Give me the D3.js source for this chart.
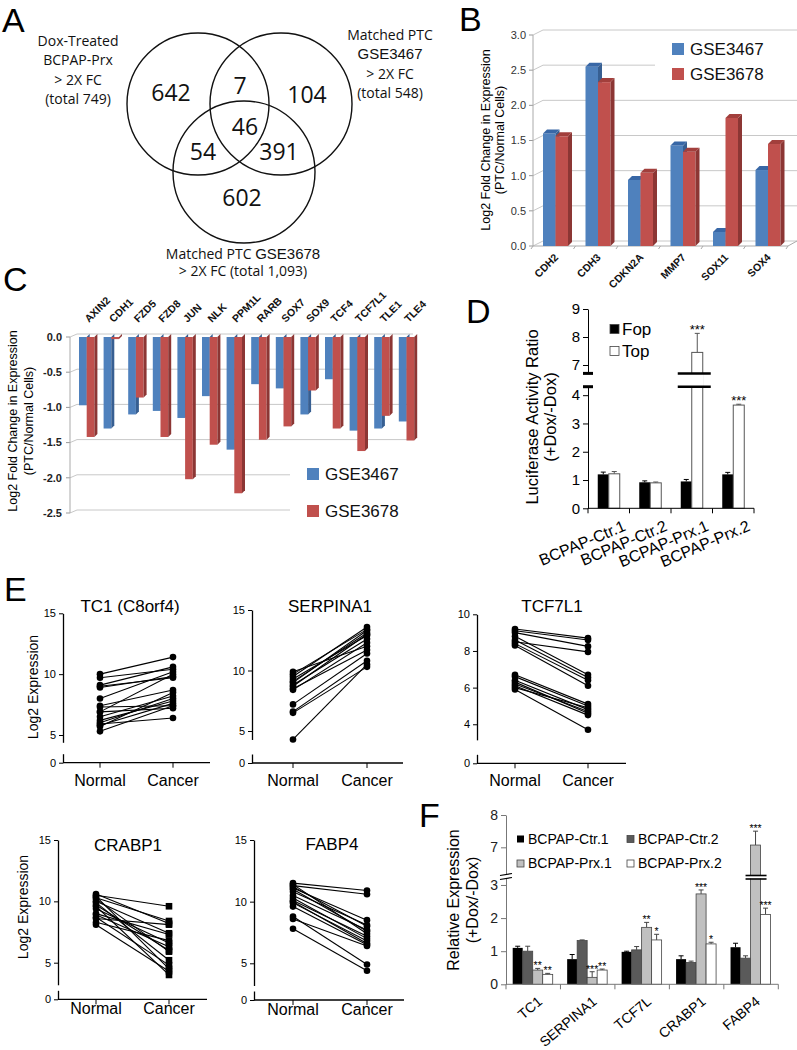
<!DOCTYPE html>
<html>
<head>
<meta charset="utf-8">
<script src="https://cdn.jsdelivr.net/npm/d3@7"></script>
<style>
  body { margin: 0; background: #fff; }
  svg { display: block; font-family: "Liberation Sans", Arial, sans-serif; }
</style>
</head>
<body>
<div id="fig"></div>
<script>
// ---------------- data ----------------
// A: venn counts (only dox, dox&3467, only 3467, all, dox&3678, 3467&3678, only 3678)
var vennCounts = [642, 7, 104, 46, 54, 391, 602];

// B: up-regulated genes
var bGenes = ["CDH2", "CDH3", "CDKN2A", "MMP7", "SOX11", "SOX4"];
var bGSE3467 = [1.60, 2.55, 0.94, 1.43, 0.20, 1.08];
var bGSE3678 = [1.56, 2.33, 1.04, 1.34, 1.82, 1.45];

// C: down-regulated genes
var cGenes = ["AXIN2", "CDH1", "FZD5", "FZD8", "JUN", "NLK", "PPM1L", "RARB", "SOX7", "SOX9", "TCF4", "TCF7L1", "TLE1", "TLE4"];
var cGSE3467 = [-0.97, -1.30, -1.10, -1.05, -1.15, -0.84, -1.60, -0.67, -0.73, -1.10, -0.60, -1.33, -1.30, -1.20];
var cGSE3678 = [-1.42, -0.03, -0.86, -1.42, -2.02, -1.53, -2.22, -1.46, -1.27, -0.76, -1.30, -1.62, -1.12, -1.47];

// D: luciferase
var dGroups = ["BCPAP-Ctr.1", "BCPAP-Ctr.2", "BCPAP-Prx.1", "BCPAP-Prx.2"];
var dFop = [1.20, 0.92, 0.95, 1.20];
var dFopErr = [0.08, 0.05, 0.07, 0.07];
var dTop = [1.22, 0.90, 7.45, 3.65];
var dTopErr = [0.08, 0.03, 0.68, 0.03];
var dTopStars = ["", "", "***", "***"];

// E: paired normal / cancer expression
var tc1Normal = [10.0, 9.7, 9.1, 8.9, 8.0, 7.4, 7.3, 6.9, 6.9, 6.5, 6.2, 6.0, 5.9, 5.8, 5.7, 5.3, 9.0];
var tc1Cancer = [11.4, 10.4, 10.6, 9.8, 10.2, 8.7, 7.4, 10.0, 7.2, 8.2, 7.8, 8.0, 6.4, 7.6, 8.5, 7.4, 9.7];
var serNormal = [9.9, 9.7, 9.5, 9.3, 9.0, 8.7, 8.5, 8.4, 7.2, 6.6, 6.5, 4.3, 9.1, 8.8];
var serCancer = [12.0, 13.4, 13.6, 12.9, 13.3, 13.0, 11.7, 12.3, 11.4, 10.8, 10.3, 10.5, 13.1, 12.6];
var tcfNormal = [9.2, 9.1, 9.0, 8.8, 8.6, 8.4, 8.3, 8.5, 6.7, 6.6, 6.4, 6.3, 6.1, 5.9, 6.0, 6.2];
var tcfCancer = [8.7, 8.6, 8.25, 6.7, 6.55, 6.4, 6.1, 7.95, 5.1, 5.0, 4.8, 4.6, 4.5, 3.7, 4.9, 4.7];
var craNormal = [10.5, 10.3, 10.6, 10.0, 9.7, 10.4, 9.6, 9.4, 8.9, 8.7, 8.6, 8.3, 8.1, 10.2, 9.0, 9.9];
var craCancer = [9.6, 8.4, 8.2, 7.4, 6.0, 4.5, 4.0, 6.6, 6.3, 4.8, 8.1, 6.8, 4.3, 5.9, 7.3, 5.2];
var fabNormal = [11.5, 11.3, 11.1, 11.4, 10.8, 10.5, 10.3, 10.1, 9.9, 9.6, 8.8, 8.6, 7.8, 11.0, 10.0, 11.2];
var fabCancer = [10.9, 10.6, 8.5, 7.4, 8.1, 7.7, 7.0, 7.2, 6.8, 6.5, 4.9, 6.4, 4.4, 7.6, 6.6, 8.0];

// F: relative expression
var fGenes = ["TC1", "SERPINA1", "TCF7L", "CRABP1", "FABP4"];
var fSeries = ["BCPAP-Ctr.1", "BCPAP-Ctr.2", "BCPAP-Prx.1", "BCPAP-Prx.2"];
var fCtr1 = [1.10, 0.76, 0.98, 0.76, 1.12];
var fCtr1Err = [0.05, 0.14, 0.02, 0.10, 0.12];
var fCtr2 = [1.00, 1.32, 1.04, 0.66, 0.79];
var fCtr2Err = [0.15, 0.02, 0.10, 0.04, 0.07];
var fPrx1 = [0.43, 0.21, 1.72, 2.73, 7.07];
var fPrx1Err = [0.05, 0.17, 0.15, 0.12, 0.43];
var fPrx2 = [0.30, 0.43, 1.34, 1.22, 2.11];
var fPrx2Err = [0.03, 0.03, 0.17, 0.05, 0.19];
var fPrx1Stars = ["**", "***", "**", "***", "***"];
var fPrx2Stars = ["**", "**", "*", "*", "***"];

// ---------------- svg ----------------
var svg = d3.select("#fig").append("svg")
  .attr("width", 797)
  .attr("height", 1050);
svg.append("rect").attr("width", 797).attr("height", 1050).attr("fill", "#fff");

var FONT = "'Liberation Sans', Arial, sans-serif";
var intFmt = d3.format("d");

// panel letters
[["A", 2, 32], ["B", 459, 31], ["C", 3, 291], ["D", 466, 323], ["E", 4, 601], ["F", 419, 827]]
  .forEach(function(l) {
    svg.append("text").attr("x", l[1]).attr("y", l[2])
      .attr("font-size", 34).attr("fill", "#000").text(l[0]);
  });

//helper: style an axis group made by d3.axis
function styleAxis(g, size, weight, color) {
  g.attr("font-family", FONT).attr("font-size", size);
  g.selectAll("text").attr("fill", color || "#000").attr("font-weight", weight || "normal");
  g.selectAll("line").attr("stroke", color || "#000");
  g.selectAll("path").attr("stroke", color || "#000");
}

// ================= A: venn =================
var gA = svg.append("g");
var vennCircles = [{cx: 198, cy: 104}, {cx: 281, cy: 104}, {cx: 244, cy: 172}];
gA.selectAll("circle").data(vennCircles).join("circle")
  .attr("cx", d => d.cx).attr("cy", d => d.cy).attr("r", 71)
  .attr("fill", "none").attr("stroke", "#111").attr("stroke-width", 1.4);

var vennPos = [[171, 93], [240, 86], [307, 95], [245, 127], [203, 152], [279, 152], [242, 198]];
gA.selectAll("text.cnt").data(vennCounts).join("text")
  .attr("class", "cnt")
  .attr("x", (d, i) => vennPos[i][0]).attr("y", (d, i) => vennPos[i][1])
  .attr("dy", "0.35em")
  .attr("text-anchor", "middle")
  .attr("font-family", "'Open Sans', sans-serif")
  .attr("font-size", 23).attr("fill", "#111")
  .text(d => d);

function vennLabel(lines, x, y0, step) {
  lines.forEach(function(ln, i) {
    var t = gA.append("text").attr("x", x).attr("y", y0 + i * step)
      .attr("dy", "0.35em").attr("text-anchor", "middle")
      .attr("font-family", "'Open Sans', sans-serif").attr("font-size", 14).attr("fill", "#111");
    ln.forEach(function(part) {
      t.append("tspan")
        .attr("font-family", part.arial ? FONT : null)
        .attr("font-size", part.arial ? 15 : null)
        .text(part.s);
    });
  });
}
vennLabel([[{s: "Dox-Treated"}], [{s: "BCPAP-Prx"}], [{s: "> 2X FC"}], [{s: "(total 749)"}]], 78, 41, 19.5);
vennLabel([[{s: "Matched PTC"}], [{s: "GSE3467", arial: true}], [{s: "> 2X FC"}], [{s: "(total 548)"}]], 390, 35, 19.5);
vennLabel([[{s: "Matched PTC "}, {s: "GSE3678", arial: true}], [{s: "> 2X FC (total 1,093)"}]], 243, 254, 17);

// ================= B: 3D bars (up) =================
var gB = svg.append("g");
var xB = d3.scaleBand().domain(bGenes).range([533, 788]);
var yB = d3.scaleLinear().domain([0, 3]).range([246, 35]);
var dB = 4;

// back wall grid
yB.ticks(6).forEach(function(v) {
  var y = yB(v);
  gB.append("line").attr("x1", 533).attr("y1", y).attr("x2", 533 + 10).attr("y2", y - 5)
    .attr("stroke", "#c8c8c8");
  gB.append("line").attr("x1", 543).attr("y1", y - 5).attr("x2", v === 2.5 ? 655 : 797).attr("y2", y - 5)
    .attr("stroke", "#c8c8c8");
  gB.append("line").attr("x1", 529).attr("x2", 533).attr("y1", y).attr("y2", y).attr("stroke", "#999");
  gB.append("text").attr("x", 526).attr("y", y).attr("dy", "0.35em").attr("text-anchor", "end")
    .attr("font-size", 11).attr("fill", "#333").text(d3.format(".1f")(v));
});
gB.append("line").attr("x1", 533).attr("x2", 533).attr("y1", yB(0)).attr("y2", yB(3)).attr("stroke", "#aaa");
gB.append("line").attr("x1", 533).attr("x2", 788).attr("y1", yB(0)).attr("y2", yB(0)).attr("stroke", "#aaa");
gB.append("line").attr("x1", 788).attr("x2", 797).attr("y1", yB(0)).attr("y2", yB(0) - 5).attr("stroke", "#aaa");
xB.domain().concat(["end"]).forEach(function(g) {
  var x = g === "end" ? 788 : xB(g);
  gB.append("line").attr("x1", x).attr("x2", x - 2).attr("y1", yB(0)).attr("y2", yB(0) + 3).attr("stroke", "#aaa");
});

function bar3d(g, x, w, yTop, yBase, d, front, side, top) {
  g.append("rect").attr("x", x).attr("y", Math.min(yTop, yBase)).attr("width", w)
    .attr("height", Math.abs(yBase - yTop)).attr("fill", front);
  g.append("path")
    .attr("d", "M" + (x + w) + "," + yTop + "L" + (x + w + d) + "," + (yTop - d) + "L" + (x + w + d) + "," + (yBase - d) + "L" + (x + w) + "," + yBase + "Z")
    .attr("fill", side);
  if (top) {
    g.append("path")
      .attr("d", "M" + x + "," + yTop + "L" + (x + d) + "," + (yTop - d) + "L" + (x + w + d) + "," + (yTop - d) + "L" + (x + w) + "," + yTop + "Z")
      .attr("fill", top);
  }
}

bGenes.forEach(function(gene, i) {
  var x0 = xB(gene) + 10;
  bar3d(gB, x0, 12.5, yB(bGSE3467[i]), yB(0), dB, "#4f81bd", "#375f92", "#3867a6");
  bar3d(gB, x0 + 12.5, 12.5, yB(bGSE3678[i]), yB(0), dB, "#c0504d", "#8c3634", "#a23f3c");
  gB.append("text")
    .attr("transform", "translate(" + (x0 + 16) + ",258) rotate(-45)")
    .attr("text-anchor", "end").attr("font-size", 10.5).attr("font-weight", "bold").attr("fill", "#111")
    .text(gene);
});

gB.append("text").attr("transform", "translate(486,140) rotate(-90)").attr("text-anchor", "middle")
  .attr("dy", "0.35em").attr("font-size", 12.5).text("Log2 Fold Change in Expression");
gB.append("text").attr("transform", "translate(500,140) rotate(-90)").attr("text-anchor", "middle")
  .attr("dy", "0.35em").attr("font-size", 12.5).text("(PTC/Normal Cells)");

// legend B
[["GSE3467", "#4f81bd", 49], ["GSE3678", "#c0504d", 74]].forEach(function(l) {
  gB.append("rect").attr("x", 672).attr("y", l[2] - 6).attr("width", 12).attr("height", 12).attr("fill", l[1]);
  gB.append("text").attr("x", 690).attr("y", l[2]).attr("dy", "0.35em").attr("font-size", 17)
    .attr("fill", "#111").text(l[0]);
});

// ================= C: 3D bars (down) =================
var gC = svg.append("g");
var xC = d3.scaleBand().domain(cGenes).range([70, 70 + 14 * 24.6]);
var yC = d3.scaleLinear().domain([-2.5, 0]).range([513, 337]);

yC.ticks(5).forEach(function(v) {
  var y = yC(v);
  var xEnd = v <= -2 ? 290 : 413;
  gC.append("line").attr("x1", 70).attr("y1", y).attr("x2", 77).attr("y2", y - 3).attr("stroke", "#c8c8c8");
  gC.append("line").attr("x1", 77).attr("y1", y - 3).attr("x2", xEnd).attr("y2", y - 3).attr("stroke", "#c8c8c8");
  gC.append("line").attr("x1", 66).attr("x2", 70).attr("y1", y).attr("y2", y).attr("stroke", "#999");
  gC.append("text").attr("x", 62).attr("y", y).attr("dy", "0.35em").attr("text-anchor", "end")
    .attr("font-size", 11).attr("font-weight", "bold").attr("fill", "#222").text(d3.format(".1f")(v).replace("−", "-"));
});
gC.append("line").attr("x1", 70).attr("x2", 70).attr("y1", yC(0)).attr("y2", yC(-2.5)).attr("stroke", "#aaa");

cGenes.forEach(function(gene, i) {
  var x0 = xC(gene) + 9;
  bar3d(gC, x0, 7.7, yC(0), yC(cGSE3467[i]), 3, "#4f81bd", "#375f92", null);
  bar3d(gC, x0 + 7.7, 7.7, yC(0), yC(cGSE3678[i]), 3, "#c0504d", "#8c3634", null);
  gC.append("text")
    .attr("transform", "translate(" + (x0 + 10) + ",323) rotate(-45)")
    .attr("font-size", 10.5).attr("font-weight", "bold").attr("fill", "#111")
    .text(gene);
});

gC.append("text").attr("transform", "translate(13,421) rotate(-90)").attr("text-anchor", "middle")
  .attr("dy", "0.35em").attr("font-size", 12.5).text("Log2 Fold Change in Expression");
gC.append("text").attr("transform", "translate(29,421) rotate(-90)").attr("text-anchor", "middle")
  .attr("dy", "0.35em").attr("font-size", 12.5).text("(PTC/Normal Cells)");

[["GSE3467", "#4f81bd", 474], ["GSE3678", "#c0504d", 511]].forEach(function(l) {
  gC.append("rect").attr("x", 307).attr("y", l[2] - 6).attr("width", 12).attr("height", 12).attr("fill", l[1]);
  gC.append("text").attr("x", 325).attr("y", l[2]).attr("dy", "0.35em").attr("font-size", 17)
    .attr("fill", "#111").text(l[0]);
});

// ================= D: luciferase =================
var gD = svg.append("g");
var xD = d3.scaleBand().domain(dGroups).range([588, 754]);
var yDlow = d3.scaleLinear().domain([0, 4.3]).range([508.3, 386.7]);
var yDhigh = d3.scaleLinear().domain([6.7, 9]).range([373.4, 309]);
function yD(v) { return v > 5 ? yDhigh(v) : yDlow(v); }
var bwD = 11;

function errBar(g, cx, y1, y2, color) {
  g.append("line").attr("x1", cx).attr("x2", cx).attr("y1", y1).attr("y2", y2).attr("stroke", color).attr("stroke-width", 1);
  g.append("line").attr("x1", cx - 2.5).attr("x2", cx + 2.5).attr("y1", y2).attr("y2", y2).attr("stroke", color).attr("stroke-width", 1);
}

dGroups.forEach(function(grp, i) {
  var c = xD(grp) + xD.bandwidth() / 2;
  errBar(gD, c - bwD / 2, yD(dFop[i]), yD(dFop[i] + dFopErr[i]), "#000");
  gD.append("rect").attr("x", c - bwD).attr("y", yD(dFop[i])).attr("width", bwD)
    .attr("height", yD(0) - yD(dFop[i])).attr("fill", "#000");
  errBar(gD, c + bwD / 2, yD(dTop[i]), yD(dTop[i] + dTopErr[i]), "#555");
  gD.append("rect").attr("x", c).attr("y", yD(dTop[i])).attr("width", bwD)
    .attr("height", yD(0) - yD(dTop[i])).attr("fill", "#fff").attr("stroke", "#555").attr("stroke-width", 1);
  if (dTopStars[i]) {
    gD.append("text").attr("x", c + bwD / 2).attr("y", yD(dTop[i] + dTopErr[i]) + 1)
      .attr("text-anchor", "middle").attr("font-size", 13).text(dTopStars[i]);
  }
  if (dTop[i] > 5) {
    // broken bar
    gD.append("rect").attr("x", c - 1).attr("y", yDhigh(6.7)).attr("width", bwD + 2)
      .attr("height", yDlow(4.3) - yDhigh(6.7)).attr("fill", "#fff");
    [yDhigh(6.7), yDlow(4.3)].forEach(function(y) {
      gD.append("line").attr("x1", c - 14).attr("x2", c + bwD + 8).attr("y1", y).attr("y2", y)
        .attr("stroke", "#000").attr("stroke-width", 2.5);
    });
  }
  gD.append("text")
    .attr("transform", "translate(" + (c + 18) + ",530) rotate(-23)")
    .attr("text-anchor", "end").attr("font-size", 16).text(grp);
});

var axDlow = gD.append("g").attr("transform", "translate(588,0)")
  .call(d3.axisLeft(yDlow).tickValues([0, 1, 2, 3, 4]).tickSize(5).tickSizeOuter(0).tickFormat(intFmt));
var axDhigh = gD.append("g").attr("transform", "translate(588,0)")
  .call(d3.axisLeft(yDhigh).tickValues([7, 8, 9]).tickSize(5).tickSizeOuter(0).tickFormat(intFmt));
styleAxis(axDlow, 15);
styleAxis(axDhigh, 15);
[yDhigh(6.7), yDlow(4.3)].forEach(function(y) {
  gD.append("line").attr("x1", 583).attr("x2", 593).attr("y1", y).attr("y2", y).attr("stroke", "#000").attr("stroke-width", 3);
});
gD.append("line").attr("x1", 588).attr("x2", 754).attr("y1", yD(0)).attr("y2", yD(0)).attr("stroke", "#000");
dGroups.map(xD).concat([754]).forEach(function(x) {
  gD.append("line").attr("x1", x).attr("x2", x).attr("y1", yD(0)).attr("y2", yD(0) + 5).attr("stroke", "#000");
});

gD.append("text").attr("transform", "translate(532,417) rotate(-90)").attr("text-anchor", "middle")
  .attr("dy", "0.35em").attr("font-size", 16.5).text("Luciferase Activity Ratio");
gD.append("text").attr("transform", "translate(550,417) rotate(-90)").attr("text-anchor", "middle")
  .attr("dy", "0.35em").attr("font-size", 16.5).text("(+Dox/-Dox)");

[["Fop", "#000", 329], ["Top", "#fff", 351]].forEach(function(l) {
  gD.append("rect").attr("x", 610).attr("y", l[2] - 4.5).attr("width", 9).attr("height", 9)
    .attr("fill", l[1]).attr("stroke", "#444").attr("stroke-width", 0.8);
  gD.append("text").attr("x", 622).attr("y", l[2]).attr("dy", "0.35em").attr("font-size", 17).text(l[0]);
});

// ================= E: paired plots =================
var ePanels = [
  {title: "TC1 (C8orf4)", normal: tc1Normal, cancer: tc1Cancer, ax: 63, max: 15, maxY: 613.3, unit: 12.17, brk: 4.4, zeroY: 762.7, ticks: [5, 10, 15], nx: 100, cx: 173, xEnd: 210, tx: 130, ty: 612, ly: 786, ylab: [33, 687]},
  {title: "SERPINA1", normal: serNormal, cancer: serCancer, ax: 252, max: 15, maxY: 610, unit: 12.1, brk: 4.3, zeroY: 763, ticks: [5, 10, 15], nx: 293, cx: 367, xEnd: 403, tx: 330, ty: 612, ly: 786},
  {title: "TCF7L1", normal: tcfNormal, cancer: tcfCancer, ax: 477, max: 10, maxY: 614.3, unit: 18.33, brk: 3.15, zeroY: 763.3, ticks: [4, 6, 8, 10], nx: 515, cx: 588, xEnd: 626, tx: 552, ty: 612, ly: 786},
  {title: "CRABP1", normal: craNormal, cancer: craCancer, ax: 58, max: 15, maxY: 840, unit: 12.27, brk: 3.2, zeroY: 999.3, ticks: [5, 10, 15], nx: 96, cx: 169, xEnd: 207, tx: 128, ty: 851, ly: 1014, square: true, ylab: [23, 907]},
  {title: "FABP4", normal: fabNormal, cancer: fabCancer, ax: 254, max: 15, maxY: 840, unit: 12.33, brk: 3.2, zeroY: 1000, ticks: [5, 10, 15], nx: 293, cx: 367, xEnd: 404, tx: 332, ty: 850, ly: 1015}
];

ePanels.forEach(function(p) {
  var g = svg.append("g");
  var y = d3.scaleLinear().domain([p.brk, p.max]).range([p.maxY + (p.max - p.brk) * p.unit, p.maxY]);
  var yZero = d3.scaleLinear().domain([0, 1]).range([p.zeroY, p.zeroY - 9]);

  var ax1 = g.append("g").attr("transform", "translate(" + p.ax + ",0)")
    .call(d3.axisLeft(y).tickValues(p.ticks).tickSize(4).tickSizeOuter(0).tickFormat(intFmt));
  var ax0 = g.append("g").attr("transform", "translate(" + p.ax + ",0)")
    .call(d3.axisLeft(yZero).tickValues([0]).tickSize(4).tickSizeOuter(0).tickFormat(intFmt));
  styleAxis(ax1, 11);
  styleAxis(ax0, 11);
  g.selectAll("path.domain").attr("stroke-width", 1.3);

  g.append("line").attr("x1", p.ax).attr("x2", p.xEnd).attr("y1", p.zeroY).attr("y2", p.zeroY)
    .attr("stroke", "#000").attr("stroke-width", 1.3);
  [[p.nx, "Normal"], [p.cx, "Cancer"]].forEach(function(t) {
    g.append("line").attr("x1", t[0]).attr("x2", t[0]).attr("y1", p.zeroY).attr("y2", p.zeroY + 5).attr("stroke", "#000");
    g.append("text").attr("x", t[0]).attr("y", p.ly).attr("text-anchor", "middle").attr("font-size", 16).text(t[1]);
  });

  g.append("text").attr("x", p.tx).attr("y", p.ty).attr("text-anchor", "middle").attr("font-size", 17).text(p.title);
  if (p.ylab) {
    g.append("text").attr("transform", "translate(" + p.ylab[0] + "," + p.ylab[1] + ") rotate(-90)")
      .attr("text-anchor", "middle").attr("dy", "0.35em").attr("font-size", 14).text("Log2 Expression");
  }

  var pairs = p.normal.map(function(n, i) { return [n, p.cancer[i]]; });
  g.selectAll("line.pair").data(pairs).join("line").attr("class", "pair")
    .attr("x1", p.nx).attr("x2", p.cx).attr("y1", d => y(d[0])).attr("y2", d => y(d[1]))
    .attr("stroke", "#000").attr("stroke-width", 1.1);
  g.selectAll("circle.n").data(p.normal).join("circle").attr("class", "n")
    .attr("cx", p.nx).attr("cy", d => y(d)).attr("r", 3.3).attr("fill", "#000");
  if (p.square) {
    g.selectAll("rect.c").data(p.cancer).join("rect").attr("class", "c")
      .attr("x", p.cx - 3.3).attr("y", d => y(d) - 3.3).attr("width", 6.6).attr("height", 6.6).attr("fill", "#000");
  } else {
    g.selectAll("circle.c").data(p.cancer).join("circle").attr("class", "c")
      .attr("cx", p.cx).attr("cy", d => y(d)).attr("r", 3.3).attr("fill", "#000");
  }
});

// ================= F: relative expression =================
var gF = svg.append("g");
var xF = d3.scaleBand().domain(fGenes).range([506, 778.3]);
var yFlow = d3.scaleLinear().domain([0, 3.25]).range([984.3, 876.7]);
var yFhigh = d3.scaleLinear().domain([6.1, 8]).range([876.4, 815]);
function yF(v) { return v > 3.25 ? yFhigh(v) : yFlow(v); }
var fColors = ["#000", "#5a5a5a", "#c0c0c0", "#fff"];
var fVals = [fCtr1, fCtr2, fPrx1, fPrx2];
var fErrs = [fCtr1Err, fCtr2Err, fPrx1Err, fPrx2Err];
var fStars = [null, null, fPrx1Stars, fPrx2Stars];
var bwF = 10;

fGenes.forEach(function(gene, i) {
  var x0 = xF(gene) + 6.7;
  fVals.forEach(function(vals, s) {
    var x = x0 + s * bwF;
    var v = vals[i];
    errBar(gF, x + bwF / 2, yF(v), yF(v + fErrs[s][i]), s === 0 ? "#000" : "#444");
    gF.append("rect").attr("x", x).attr("y", yF(v)).attr("width", bwF).attr("height", yF(0) - yF(v))
      .attr("fill", fColors[s]).attr("stroke", s === 0 ? "none" : "#444").attr("stroke-width", 0.8);
    if (fStars[s]) {
      gF.append("text").attr("x", x + bwF / 2).attr("y", yF(v + fErrs[s][i]) + 1)
        .attr("text-anchor", "middle").attr("font-size", 10.5).text(fStars[s][i]);
    }
    if (v > 3.25) {
      gF.append("rect").attr("x", x - 1).attr("y", 876).attr("width", bwF + 2).attr("height", 2.5).attr("fill", "#fff");
      [875.5, 879].forEach(function(yy) {
        gF.append("line").attr("x1", x - 5).attr("x2", x + bwF + 6).attr("y1", yy).attr("y2", yy)
          .attr("stroke", "#000").attr("stroke-width", 1.6);
      });
    }
  });
  gF.append("text")
    .attr("transform", "translate(" + (xF(gene) + xF.bandwidth() / 2 + 10) + ",1003) rotate(-40)")
    .attr("text-anchor", "end").attr("font-size", 14).text(gene);
});

var axFlow = gF.append("g").attr("transform", "translate(506,0)")
  .call(d3.axisLeft(yFlow).tickValues([0, 1, 2, 3]).tickSize(5).tickSizeOuter(0).tickFormat(intFmt));
var axFhigh = gF.append("g").attr("transform", "translate(506,0)")
  .call(d3.axisLeft(yFhigh).tickValues([7, 8]).tickSize(5).tickSizeOuter(0).tickFormat(intFmt));
styleAxis(axFlow, 14, "normal", "#222");
styleAxis(axFhigh, 14, "normal", "#222");
axFlow.selectAll("path, line").attr("stroke", "#777");
axFhigh.selectAll("path, line").attr("stroke", "#777");
gF.append("rect").attr("x", 500).attr("y", 875).attr("width", 12).attr("height", 3.5).attr("fill", "#fff");
[874.5, 878.5].forEach(function(yy) {
  gF.append("line").attr("x1", 500).attr("x2", 512).attr("y1", yy + 1).attr("y2", yy - 1).attr("stroke", "#000").attr("stroke-width", 1.2);
});
gF.append("line").attr("x1", 506).attr("x2", 778.3).attr("y1", yF(0)).attr("y2", yF(0)).attr("stroke", "#777");
fGenes.map(xF).concat([778.3]).forEach(function(x) {
  gF.append("line").attr("x1", x).attr("x2", x).attr("y1", yF(0)).attr("y2", yF(0) + 5).attr("stroke", "#777");
});

gF.append("text").attr("transform", "translate(453,900) rotate(-90)").attr("text-anchor", "middle")
  .attr("dy", "0.35em").attr("font-size", 16).text("Relative Expression");
gF.append("text").attr("transform", "translate(472,900) rotate(-90)").attr("text-anchor", "middle")
  .attr("dy", "0.35em").attr("font-size", 16).text("(+Dox/-Dox)");

fSeries.forEach(function(name, s) {
  var lx = s % 2 === 0 ? 517 : 627;
  var ly = s < 2 ? 839 : 863.5;
  gF.append("rect").attr("x", lx).attr("y", ly - 3.5).attr("width", 7).attr("height", 7)
    .attr("fill", fColors[s]).attr("stroke", s === 0 ? "none" : "#444").attr("stroke-width", 0.8);
  gF.append("text").attr("x", lx + 11).attr("y", ly).attr("dy", "0.35em").attr("font-size", 14).text(name);
});
</script>
</body>
</html>
